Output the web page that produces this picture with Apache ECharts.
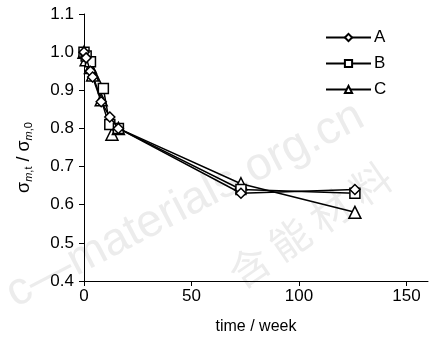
<!DOCTYPE html>
<html>
<head>
<meta charset="utf-8" />
<title>strength ratio</title>
<script src="https://cdn.jsdelivr.net/npm/echarts@6/dist/echarts.min.js"></script>
<style type="text/css">
body, html {
	margin: 0;
	padding: 0;
	background: #fff;
}
#chart {
	width: 430px;
	height: 340px;
}
</style>
</head>
<body>
	<div id="chart"></div>
	<script>
		// time / week
		let weeksA = [0, 1, 3, 4, 8, 12, 16, 73, 126];
		let weeksB = [0, 1, 3, 9, 12, 16, 73, 126];
		let weeksC = [0, 1, 3, 4, 8, 13, 16, 73, 126];
		// sigma_m,t / sigma_m,0
		let valuesA = [1.0, 0.985, 0.95, 0.935, 0.87, 0.83, 0.80, 0.63, 0.64];
		let valuesB = [1.0, 0.99, 0.975, 0.905, 0.81, 0.80, 0.64, 0.63];
		let valuesC = [1.0, 0.98, 0.96, 0.94, 0.875, 0.785, 0.80, 0.655, 0.58];
		let seriesNames = ['A', 'B', 'C'];
		let symbols = ['diamond', 'rect', 'triangle'];
		let symbolSizes = [10, 10, 12];
		let xTicks = [0, 50, 100, 150];

		let font = '"Liberation Sans", Arial, sans-serif';

		function pairs(xs, ys) {
			let out = [];
			for (let i = 0; i < xs.length; i++) {
				out.push([xs[i], ys[i]]);
			}
			return out;
		}
		let allData = [pairs(weeksA, valuesA), pairs(weeksB, valuesB), pairs(weeksC, valuesC)];

		let series = seriesNames.map(function(name, i) {
			return {
				name: name,
				type: 'line',
				data: allData[i],
				symbol: symbols[i],
				symbolSize: symbolSizes[i],
				lineStyle: { color: '#000', width: 1.5 },
				itemStyle: { color: '#fff', borderColor: '#000', borderWidth: 1.5 },
				z: 3 - i
			};
		});

		let chart = echarts.init(document.getElementById('chart'));
		chart.setOption({
			animation: false,
			textStyle: { fontFamily: font },
			grid: { left: 84, right: 2, top: 14, bottom: 56 },
			// 水印
			graphic: [
				{
					type: 'text', x: 185, y: 205, rotation: 0.48,
					style: {
						text: 'c—materials.org.cn', fontSize: 46, fill: '#ececec',
						fontFamily: font,
						align: 'center', verticalAlign: 'middle'
					},
					z: -10
				},
				{
					type: 'text', x: 310, y: 225, rotation: 0.6,
					style: {
						text: '含 能 材 料', fontSize: 40, fill: '#ececec',
						fontFamily: 'Noto Sans CJK SC',
						align: 'center', verticalAlign: 'middle'
					},
					z: -10
				}
			],
			legend: {
				orient: 'vertical',
				left: 320,
				top: 24,
				itemWidth: 45,
				itemHeight: 9,
				itemGap: 9,
				data: seriesNames,
				textStyle: { fontSize: 17, color: '#000', padding: [0, 0, 0, -2] }
			},
			xAxis: {
				type: 'value',
				min: 0,
				max: 160,
				interval: 50,
				name: 'time / week',
				nameLocation: 'middle',
				nameGap: 38,
				nameTextStyle: { fontSize: 16, color: '#000' },
				splitLine: { show: false },
				axisLine: { lineStyle: { color: '#000', width: 1 } },
				axisTick: { length: 5, lineStyle: { color: '#000' } },
				axisLabel: {
					fontSize: 17, color: '#000', margin: 7, showMaxLabel: false,
					formatter: function(v) { return xTicks.indexOf(v) >= 0 ? String(v) : ''; }
				}
			},
			yAxis: {
				type: 'value',
				min: 0.4,
				max: 1.1,
				interval: 0.1,
				name: '{g|σ}{i|m}{s|,t}{g| / σ}{i|m}{s|,0}',
				nameLocation: 'middle',
				nameRotate: 90,
				nameGap: 50,
				nameTextStyle: {
					color: '#000',
					padding: [0, 20, 0, 0],
					rich: {
						g: { fontSize: 18, color: '#000' },
						i: { fontSize: 11, fontStyle: 'italic', color: '#000', padding: [9, 0, 0, 0] },
						s: { fontSize: 11, color: '#000', padding: [9, 0, 0, 0] }
					}
				},
				splitLine: { show: false },
				axisLine: { show: true, lineStyle: { color: '#000', width: 1 } },
				axisTick: { show: true, length: 5, lineStyle: { color: '#000' } },
				axisLabel: {
					fontSize: 17, color: '#000', margin: 10,
					formatter: function(v) { return v.toFixed(1); }
				}
			},
			series: series
		});
	</script>
</body>
</html>
